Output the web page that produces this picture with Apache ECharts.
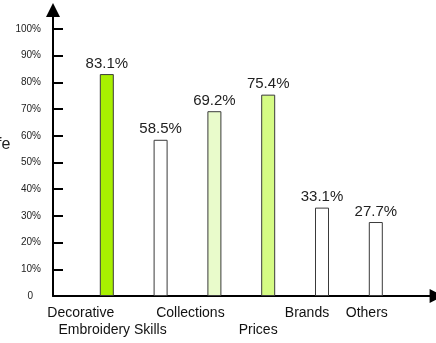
<!DOCTYPE html>
<html>
<head>
<meta charset="utf-8">
<script src="https://cdn.jsdelivr.net/npm/echarts@6/dist/echarts.min.js"></script>
<style>
  html, body { margin: 0; padding: 0; background: #fff; }
  #chart { width: 436px; height: 343px; }
</style>
</head>
<body>
<div id="chart"></div>
<script>
// Survey shares by category
const categories = ['Decorative', 'Embroidery Skills', 'Collections', 'Prices', 'Brands', 'Others'];
const shares = [83.1, 58.5, 69.2, 75.4, 33.1, 27.7];
const yTicks = [0, 10, 20, 30, 40, 50, 60, 70, 80, 90, 100];

// Bar fills
const fills = ['#a8f000', '#ffffff', '#e9fbcb', '#d5fb84', '#ffffff', '#ffffff'];
// Label placement: leftward shift (px) and which line (0 or 1)
const labelShift = [26, 48, 24, 10, 15, 9];
const labelLine = [0, 1, 0, 1, 0, 0];

const FONT = '"Liberation Sans", Arial, sans-serif';

const axisData = [''].concat(categories.map((name, i) => ({
  value: name,
  textStyle: { padding: [labelLine[i] * 17, labelShift[i] * 2, 0, 0] }
}))).concat(['']);

const barData = [null].concat(shares.map((v, i) => ({
  value: v,
  itemStyle: { color: fills[i] }
}))).concat([null]);

const chart = echarts.init(document.getElementById('chart'), null, { renderer: 'canvas' });
chart.setOption({
  animation: false,
  backgroundColor: '#fff',
  grid: { left: 53, right: 6.4, top: 10, bottom: 47, containLabel: false },
  xAxis: {
    type: 'category',
    data: axisData,
    boundaryGap: false,
    axisLine: {
      show: true,
      symbol: ['none', 'triangle'],
      symbolSize: [14, 14],
      symbolOffset: [0, 7],
      lineStyle: { color: '#000', width: 2 }
    },
    axisTick: { show: false },
    axisLabel: {
      interval: 0,
      margin: 9,
      color: '#111',
      fontFamily: FONT,
      fontSize: 14,
      lineHeight: 17
    },
    splitLine: { show: false }
  },
  yAxis: {
    type: 'value',
    min: 0,
    max: 107.1,
    axisLine: {
      show: true,
      symbol: ['none', 'triangle'],
      symbolSize: [14, 14],
      lineStyle: { color: '#000', width: 2 }
    },
    axisTick: {
      show: true,
      inside: true,
      length: 10,
      customValues: yTicks,
      lineStyle: { color: '#000', width: 2 }
    },
    axisLabel: {
      customValues: yTicks,
      margin: 12,
      color: '#222',
      fontFamily: FONT,
      fontSize: 10,
      formatter: v => v === 0 ? '{z|0}' : v + '%',
      rich: { z: { padding: [0, 8, 0, 0], fontSize: 10, fontFamily: FONT, color: '#222' } }
    },
    splitLine: { show: false }
  },
  series: [{
    type: 'bar',
    data: barData,
    barWidth: 14,
    itemStyle: { borderColor: '#3a3a3a', borderWidth: 1 },
    label: {
      show: true,
      position: 'top',
      distance: 3,
      color: '#222',
      fontFamily: FONT,
      fontSize: 15,
      formatter: p => p.value.toFixed(1) + '%'
    }
  }],
  graphic: [{
    type: 'text',
    left: -3,
    top: 137,
    style: { text: 'fe', fontFamily: FONT, fontSize: 16, fill: '#222' }
  }]
});
</script>
</body>
</html>
